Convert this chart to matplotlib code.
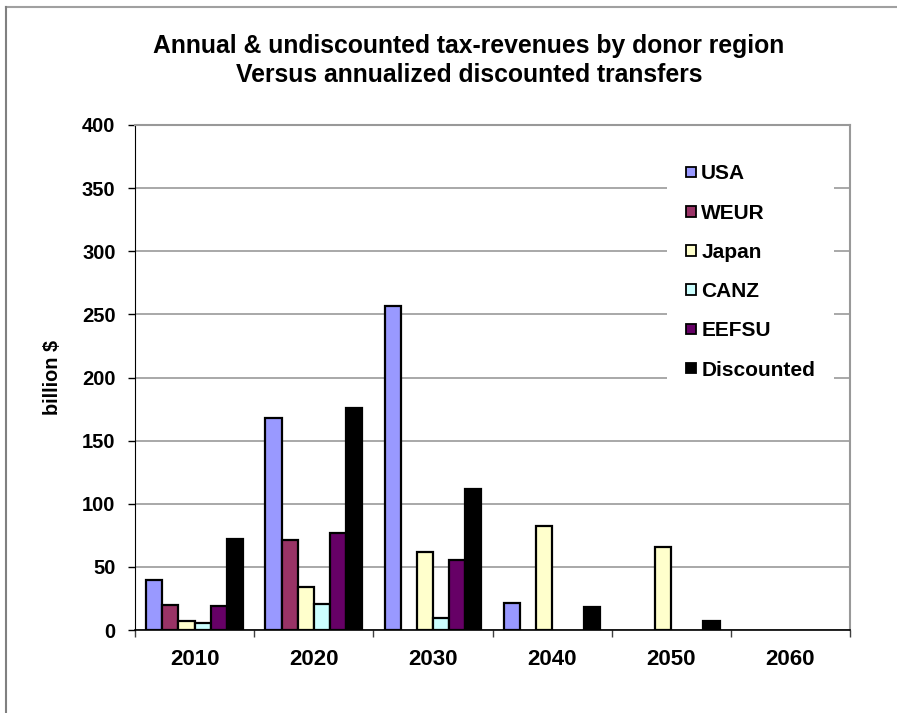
import numpy as np
import matplotlib.pyplot as plt
from matplotlib.lines import Line2D

plt.rcParams['font.family'] = ['Liberation Sans', 'DejaVu Sans']
plt.rcParams['font.weight'] = 'bold'

years = ['2010', '2020', '2030', '2040', '2050', '2060']
usa = [40, 168, 257, 21, 0, 0]
weur = [20, 71, 0, 0, 0, 0]
japan = [7.5, 34, 61.5, 82.5, 66, 0]
canz = [5.5, 20.5, 9.5, 0, 0, 0]
eefsu = [19, 76.5, 55.5, 0, 0, 0]
discounted = [72, 176, 112, 18.5, 7.5, 0]

series = [('USA', usa, '#9999FF'),
          ('WEUR', weur, '#993366'),
          ('Japan', japan, '#FFFFCC'),
          ('CANZ', canz, '#CCFFFF'),
          ('EEFSU', eefsu, '#660066'),
          ('Discounted', discounted, '#000000')]

fig = plt.figure(figsize=(8.97, 7.13), dpi=100)
ax = fig.add_axes([135/897, 1-630/713, 715/897, 505/713])

# outer chart frame (only top and left edges are visible)
fig.add_artist(Line2D([6/897, 1], [1-7/713, 1-7/713], color='#a0a0a0', lw=1.5))
fig.add_artist(Line2D([6/897, 6/897], [0, 1-7/713], color='#808080', lw=1.5))

w = 0.135
x = np.arange(len(years)) + 0.5
for k, (name, vals, col) in enumerate(series):
    vals = np.array(vals, dtype=float)
    pos = x - 3*w + (k + 0.5)*w
    keep = vals > 0  # excel draws nothing for zero values
    ax.bar(pos[keep], vals[keep], width=w, color=col, edgecolor='black',
           linewidth=1.6, zorder=3)
    # legend proxy
    ax.bar([np.nan], [np.nan], width=w, color=col, edgecolor='black',
           linewidth=1.3, label=name)

ax.set_xlim(0, 6)
ax.set_ylim(0, 400)
ax.set_yticks(np.arange(0, 401, 50))
ax.set_xticks(np.arange(0, 7))
ax.set_xticklabels([])
ax.set_xticks(x, minor=True)
ax.set_xticklabels(years, minor=True, fontsize=16, fontweight='bold')
ax.tick_params(axis='x', which='minor', length=0, pad=14)
ax.tick_params(axis='x', which='major', length=5, width=1, color='#404040')
ax.tick_params(axis='y', length=5, width=1, labelsize=14.5, pad=9)
for lab in ax.get_yticklabels():
    lab.set_fontweight('bold')

ax.yaxis.grid(True, color='#999999', linewidth=1.2, zorder=0)
ax.set_axisbelow(True)
ax.spines['left'].set_color('black')
ax.spines['bottom'].set_color('black')
ax.spines['bottom'].set_linewidth(1.2)
ax.spines['right'].set_color('#999999')
ax.spines['right'].set_linewidth(1.5)
ax.spines['top'].set_color('#999999')
ax.spines['top'].set_linewidth(1.5)

ax.set_ylabel('billion $', fontsize=14.3, fontweight='bold')
ax.yaxis.set_label_coords(-73/715, 0.5)

fig.text(469/897, 1-46/713, 'Annual & undiscounted tax-revenues by donor region',
         ha='center', va='center', fontsize=17.8, fontweight='bold')
fig.text(469/897, 1-75.5/713, 'Versus annualized discounted transfers',
         ha='center', va='center', fontsize=17.8, fontweight='bold')

leg = ax.legend(loc='center left', bbox_to_anchor=(667/897, 1-272/713),
                bbox_transform=fig.transFigure, frameon=True, fancybox=False,
                edgecolor='none', facecolor='white', framealpha=1,
                fontsize=15, labelspacing=0.97, handlelength=0.5,
                handleheight=0.4, handletextpad=0.24, borderpad=0.9,
                borderaxespad=0)
leg.set_zorder(5)
for t in leg.get_texts():
    t.set_fontweight('bold')

fig.savefig('out.png', dpi=100)
